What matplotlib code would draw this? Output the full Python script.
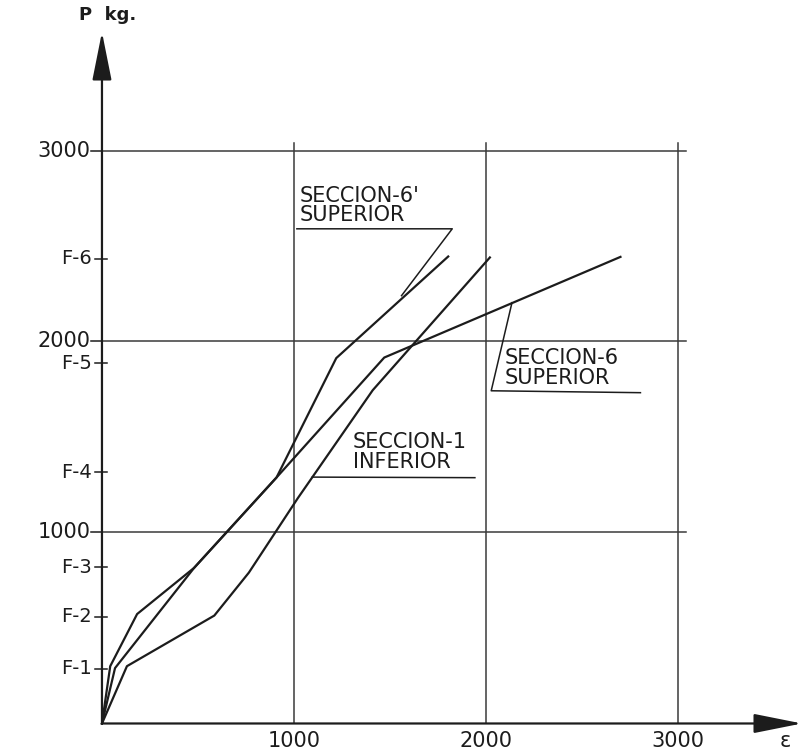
# Load vs. strain curves for three sections (scanned chart recreation)

import matplotlib.pyplot as plt

# Data (strain eps, load P in kg)
eps_sec6p = [0, 43, 183, 480, 909, 1220, 1803]
p_sec6p = [0, 300, 573, 815, 1288, 1913, 2445]

eps_sec6 = [0, 68, 480, 909, 1470, 2700]
p_sec6 = [0, 290, 815, 1288, 1916, 2443]

eps_sec1 = [0, 130, 585, 765, 1020, 1410, 2020]
p_sec1 = [0, 300, 565, 790, 1180, 1745, 2440]

grid_values = [1000, 2000, 3000]
grid_labels = ['1000', '2000', '3000']
load_steps = [287, 558, 819, 1316, 1886, 2432]
load_labels = ['F-1', 'F-2', 'F-3', 'F-4', 'F-5', 'F-6']

# Figure: axes fill the whole canvas, data limits chosen to match the reference layout
fig = plt.figure(figsize=(8.05, 7.55), dpi=100)
ax = fig.add_axes([0, 0, 1, 1])
ax.set_xlim(-531, 3661)
ax.set_ylim(-165, 3788)
ax.axis('off')

ink = '#1c1c1c'
grid_ink = '#3a3a3a'

# grid lines (stop a little past 3000)
grid_end = 3040
for g in grid_values:
    ax.plot([0, grid_end], [g, g], color=grid_ink, lw=1.1)
    ax.plot([g, g], [0, grid_end], color=grid_ink, lw=1.1)

# axes with arrow heads
ax.annotate('', xy=(0, 3620), xytext=(0, 0),
            arrowprops=dict(arrowstyle='-|>,head_length=1.5,head_width=0.3',
                            lw=1.6, color=ink, mutation_scale=20, shrinkA=0, shrinkB=0))
ax.annotate('', xy=(3645, 0), xytext=(0, 0),
            arrowprops=dict(arrowstyle='-|>,head_length=1.5,head_width=0.3',
                            lw=1.6, color=ink, mutation_scale=20, shrinkA=0, shrinkB=0))

ax.text(30, 3712, 'P  kg.', ha='center', va='center', fontsize=13, fontweight='bold', color=ink)
ax.text(3560, -90, 'ε', ha='center', va='center', fontsize=15, color=ink)

# y ticks: round values and load steps
for g, lab in zip(grid_values, grid_labels):
    ax.plot([-57, 0], [g, g], color=ink, lw=1.1)
    ax.text(-60, g, lab, ha='right', va='center', fontsize=15, color=ink)
for f, lab in zip(load_steps, load_labels):
    ax.plot([-36, 26], [f, f], color=ink, lw=1.1)
    ax.text(-52, f, lab, ha='right', va='center', fontsize=14, color=ink)

# x tick labels
for g, lab in zip(grid_values, grid_labels):
    ax.text(g, -38, lab, ha='center', va='top', fontsize=15, color=ink)

# curves
ax.plot(eps_sec6p, p_sec6p, color=ink, lw=1.6)
ax.plot(eps_sec6, p_sec6, color=ink, lw=1.6)
ax.plot(eps_sec1, p_sec1, color=ink, lw=1.6)

# labels with underline and leader lines
lab_kw = dict(ha='left', va='center', fontsize=15, color=ink)

ax.text(1030, 2760, "SECCION-6'", **lab_kw)
ax.text(1030, 2662, 'SUPERIOR', **lab_kw)
ax.plot([1015, 1824, 1560], [2590, 2590, 2240], color=ink, lw=1.1)

ax.text(2095, 1913, 'SECCION-6', **lab_kw)
ax.text(2095, 1808, 'SUPERIOR', **lab_kw)
ax.plot([2804, 2027, 2135], [1732, 1742, 2203], color=ink, lw=1.1)

ax.text(1307, 1475, 'SECCION-1', **lab_kw)
ax.text(1307, 1370, 'INFERIOR', **lab_kw)
ax.plot([1095, 1942], [1290, 1287], color=ink, lw=1.1)

fig.savefig('out.png', dpi=100, facecolor='white')
